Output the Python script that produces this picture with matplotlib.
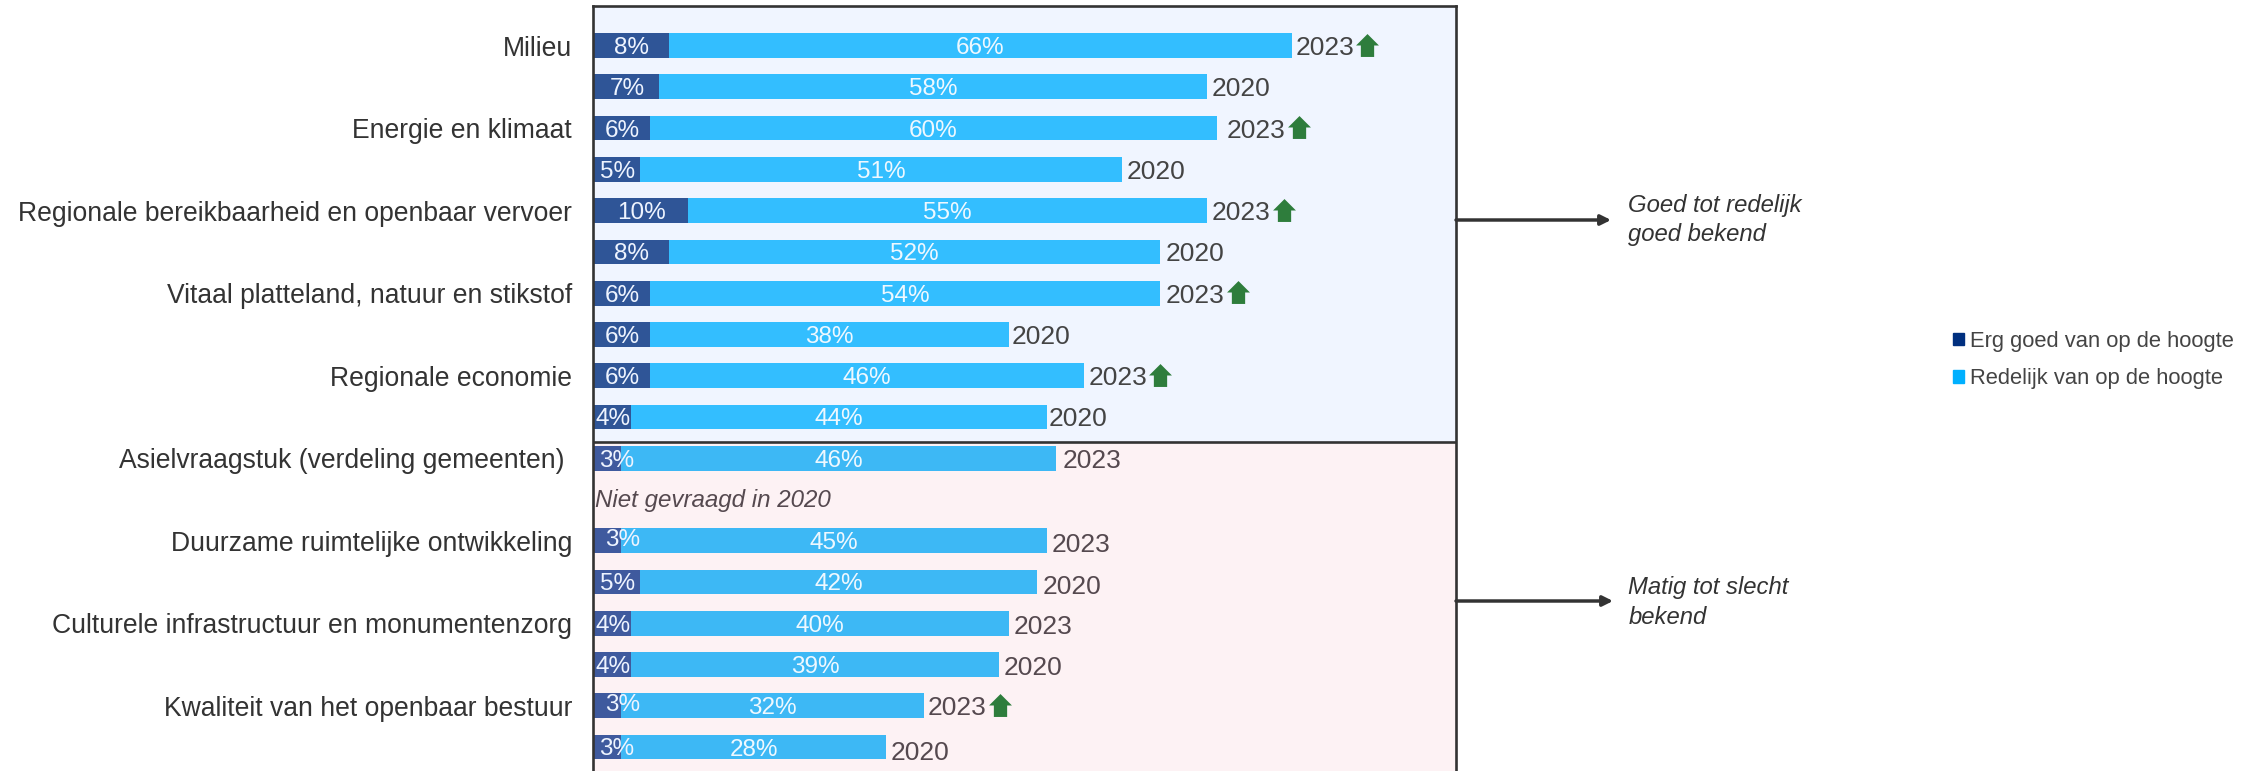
"""Bekendheid met provinciale thema's, 2023 vs 2020."""

import matplotlib
matplotlib.use("Agg")
import matplotlib.pyplot as plt
from matplotlib.patches import Patch
from matplotlib.path import Path

plt.rcParams["font.family"] = ["Liberation Sans", "DejaVu Sans"]

# one label per pair of rows
themes = [
    "Milieu",
    "Energie en klimaat",
    "Regionale bereikbaarheid en openbaar vervoer",
    "Vitaal platteland, natuur en stikstof",
    "Regionale economie",
    "Asielvraagstuk (verdeling gemeenten) ",
    "Duurzame ruimtelijke ontwikkeling",
    "Culturele infrastructuur en monumentenzorg",
    "Kwaliteit van het openbaar bestuur",
]
years = [2023, 2020, 2023, 2020, 2023, 2020, 2023, 2020, 2023, 2020,
         2023, None, 2023, 2020, 2023, 2020, 2023, 2020]
erg_goed = [8, 7, 6, 5, 10, 8, 6, 6, 6, 4, 3, None, 3, 5, 4, 4, 3, 3]
redelijk = [66, 58, 60, 51, 55, 52, 54, 38, 46, 44, 46, None, 45, 42, 40, 39, 32, 28]
stijging = [0, 2, 4, 6, 8, 16]  # rows with the green arrow

# pixel layout of the original
W, H = 2254, 771
X0, X1, Y_TOP = 593, 1456, 6
PX_PER_PCT = 9.45
ROW0, ROW_STEP = 45.6, 41.26
SPLIT_ROW = 9.6

# hand tweaks, in pixels
year_gap = [3, 4.5, 10, 4.6, 4.5, 5.6, 5.6, 3, 4, 2.5, 7, 0, 5, 5, 5, 4, 4, 5]
year_dy = {12: 1.5, 13: 3, 14: 1, 15: 1, 17: 3}
dark_shift = {10: (8, 0), 12: (14, -3), 16: (14, -3), 17: (8, -1)}
TEXT_DY = 2.5  # matplotlib centres a little high

DARK = "#333333"
up_arrow = Path([(-0.58, -1), (0.58, -1), (0.58, 0), (1, 0), (0, 1), (-1, 0), (-0.58, 0), (-0.58, -1)],
                closed=True)


def row_of(py):
    return (py - ROW0) / ROW_STEP


fig = plt.figure(figsize=(W / 100, H / 100), dpi=100, facecolor="white")
ax = fig.add_axes([X0 / W, 0, (X1 - X0) / W, (H - Y_TOP) / H])
ax.set_xlim(0, (X1 - X0) / PX_PER_PCT)
ax.set_ylim(row_of(H), row_of(Y_TOP))

ax.axhspan(row_of(Y_TOP), SPLIT_ROW, color="#F0F5FF", lw=0, zorder=0)
ax.axhspan(SPLIT_ROW, row_of(H), color="#FDF2F4", lw=0, zorder=0)

for i, (dark, light, year) in enumerate(zip(erg_goed, redelijk, years)):
    if dark is None:
        continue
    upper = i < SPLIT_ROW
    ax.barh(i, dark, height=0.6, color="#2F5597" if upper else "#3F5A9E", zorder=1)
    ax.barh(i, light, left=dark, height=0.6, color="#33BEFF" if upper else "#3DB8F5", zorder=1)

    dx, dy = dark_shift.get(i, (0, 0))
    ax.text(dark / 2 + (dx + 1) / PX_PER_PCT, i + (dy + TEXT_DY) / ROW_STEP, f"{dark}%", color="#EEF4FF",
            fontsize=17.5, ha="center", va="center", zorder=3)
    ax.text(dark + light / 2, i + TEXT_DY / ROW_STEP, f"{light}%", color="#EEF8FF",
            fontsize=17.5, ha="center", va="center", zorder=3)

    year_x = dark + light + year_gap[i] / PX_PER_PCT
    ax.text(year_x, i + (year_dy.get(i, 0) + TEXT_DY) / ROW_STEP, str(year), color="#444444" if upper else "#55494F",
            fontsize=19, ha="left", va="center", zorder=3)
    if i in stijging:
        ax.plot(year_x + 72 / PX_PER_PCT, i - 1 / ROW_STEP, marker=up_arrow, ms=16.5,
                color="#2E7D3C", mew=0, ls="none", clip_on=False, zorder=3)

ax.text(2 / PX_PER_PCT, 11 + 1.5 / ROW_STEP, "Niet gevraagd in 2020", style="italic", color="#55494F",
        fontsize=17.4, ha="left", va="center")

ax.set_yticks(range(0, 18, 2))
ax.set_yticklabels(themes, fontsize=19.1, color="#333333")
ax.tick_params(axis="y", length=0, pad=15)
ax.set_xticks([])

for side in ["left", "right", "top"]:
    ax.spines[side].set_color(DARK)
    ax.spines[side].set_linewidth(1.9)
ax.spines["bottom"].set_visible(False)
ax.axhline(SPLIT_ROW, color=DARK, lw=1.9, zorder=2)

# brackets on the right side
notes = [(220, 1611, "Goed tot redelijk\ngoed bekend", 220), (601, 1613, "Matig tot slecht\nbekend", 602.5)]
for py, x_end, note, text_y in notes:
    ax.annotate("", xy=(x_end / W, 1 - py / H), xytext=(X1 / W, 1 - py / H),
                xycoords="figure fraction", textcoords="figure fraction",
                arrowprops=dict(arrowstyle="-|>,head_length=0.6,head_width=0.3", color=DARK,
                                lw=2.5, shrinkA=0, shrinkB=0))
    fig.text(1628.5 / W, 1 - text_y / H, note, style="italic", color="#333333", fontsize=17.2,
             ha="left", va="center", linespacing=1.35)

handles = [Patch(color="#002F7F", label="Erg goed van op de hoogte"),
           Patch(color="#00B0FF", label="Redelijk van op de hoogte")]
fig.legend(handles=handles, loc="center left", bbox_to_anchor=(1953 / W, 1 - 360 / H), frameon=False,
           fontsize=15.8, labelcolor="#444444", handlelength=0.48, handleheight=0.48,
           handletextpad=0.3, labelspacing=0.75, borderpad=0, borderaxespad=0)

fig.savefig("out.png", dpi=100)
plt.close(fig)
